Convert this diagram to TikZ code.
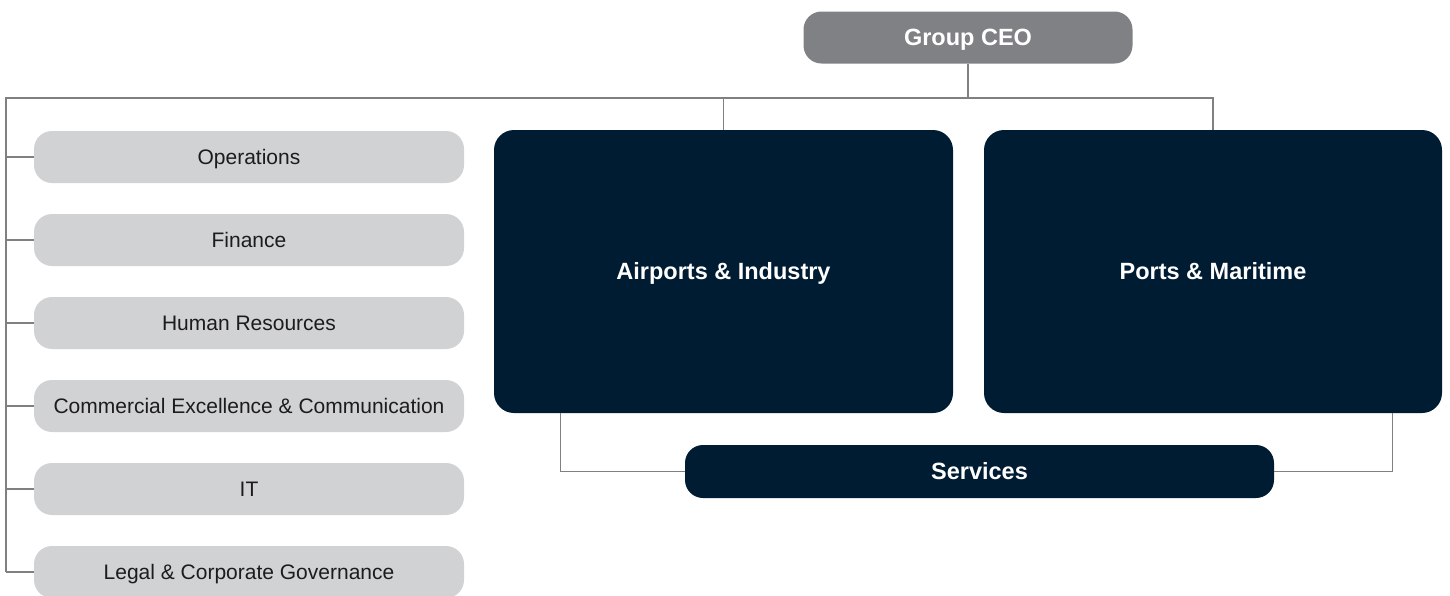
\documentclass[tikz,border=0pt]{standalone}
\usepackage{fontspec}
\setmainfont{Liberation Sans}
\definecolor{ceogray}{HTML}{808184}
\definecolor{supgray}{HTML}{D1D2D4}
\definecolor{navy}{HTML}{001C33}
\definecolor{linkgray}{HTML}{808080}
\definecolor{inkdark}{HTML}{1C1C1C}

\begin{document}
\begin{tikzpicture}[x=1pt, y=-1pt,
	box/.style={rectangle, rounded corners=18pt, inner sep=0pt, minimum height=52pt},
	support/.style={box, fill=supgray, minimum width=430pt, text=inkdark, font=\fontsize{21}{25}\selectfont,
		text height=19.5pt, text depth=4.5pt},
	title/.style={text=white, font=\fontsize{23.5}{28}\selectfont\bfseries, text height=21.8pt, text depth=5pt},
	division/.style={box, fill=navy, rounded corners=20pt, title},
	link/.style={draw=linkgray, line width=1.3pt}]
	\useasboundingbox (0,0) rectangle (1450,595);

	% top of the tree
	\node[box, fill=ceogray, minimum width=329pt, title] (ceo) at (968,37.5) {Group CEO};
	\coordinate (busL) at (6,98);

	% business divisions
	\node[division, minimum width=459pt, minimum height=283pt] (air) at (723.5,271.5) {Airports \& Industry};
	\node[division, minimum width=458pt, minimum height=283pt] (port) at (1213,271.5) {Ports \& Maritime};
	\node[division, rounded corners=18pt, minimum width=589pt, minimum height=53pt] (serv) at (979.5,471.5) {Services};

	% group functions down the left side
	\foreach \i/\y/\txt in {1/157/Operations, 2/240/Finance, 3/323/Human Resources,
		4/406/Commercial Excellence \& Communication, 5/489/IT, 6/572/Legal \& Corporate Governance} {
		\node[support] (S\i) at (249,\y) {\txt};
		\draw[link] (busL |- S\i) -- (S\i.west);
	}

	% connectors
	\draw[link] (ceo.south) -- (ceo.south |- busL);
	\draw[link] (S6.west -| busL) -- (busL) -- (busL -| port.north) -- (port.north);
	\draw[link] (busL -| air.north) -- (air.north);
	\draw[link] ([xshift=67pt]air.south west) |- (serv.west);
	\draw[link] ([xshift=-50pt]port.south east) |- (serv.east);
\end{tikzpicture}
\end{document}
